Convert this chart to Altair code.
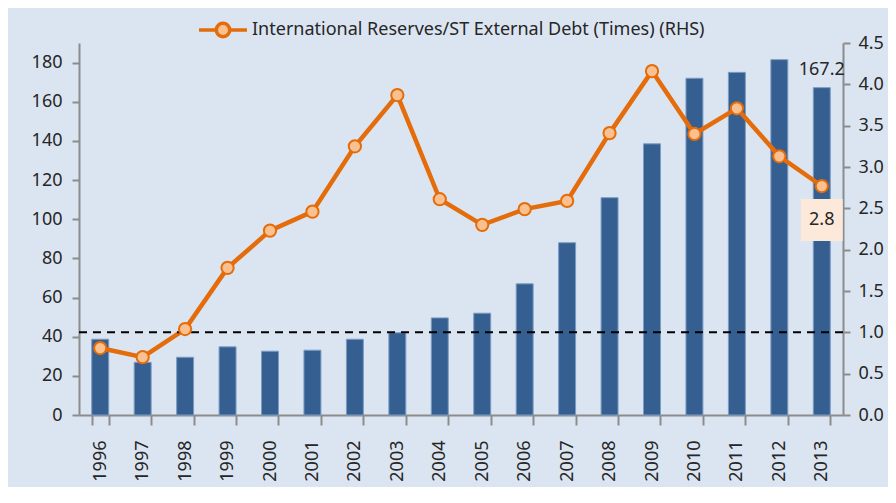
import altair as alt
import pandas as pd

years = [str(y) for y in range(1996, 2014)]
reserves_bn = [38.7, 26.9, 29.5, 34.8, 32.6, 33.1, 38.7, 42.0, 49.6, 52.0,
               67.0, 88.0, 111.0, 138.5, 172.0, 175.0, 181.5, 167.2]
ratio_times = [0.81, 0.70, 1.04, 1.78, 2.23, 2.46, 3.25, 3.87, 2.61, 2.30,
               2.49, 2.59, 3.41, 4.16, 3.40, 3.71, 3.13, 2.77]
series_name = "International Reserves/ST External Debt (Times) (RHS)"
threshold = [1.0]
last_bar_label = ["167.2"]
last_ratio_label = ["2.8"]

df = pd.DataFrame({"year": years, "reserves": reserves_bn, "ratio": ratio_times,
                   "series": [series_name] * len(years)})
last = df.tail(1).copy()
last["bar_label"] = last_bar_label
last["ratio_label"] = last_ratio_label

FONT = "Noto Sans"
BG = "#dbe5f1"
BAR = "#365f91"
ORANGE = "#e46c0a"
PEACH = "#fac090"
GREY = "#8c8c8c"
TXT = "#262626"
FS = 18

xenc = alt.X("year:N", sort=years, title=None,
             scale=alt.Scale(paddingInner=0.6, paddingOuter=0.3),
             axis=alt.Axis(labelAngle=-90, tickBand="extent", labelAlign="right",
                           labelBaseline="middle", tickSize=10, labelPadding=15,
                           domainColor=GREY, tickColor=GREY, domainWidth=2, tickWidth=2))

left_y = alt.Y("reserves:Q", title=None,
               scale=alt.Scale(domain=[0, 190], nice=False),
               axis=alt.Axis(values=list(range(0, 200, 20)), orient="left", grid=False,
                             domainColor=GREY, tickColor=GREY, domainWidth=2, tickWidth=2,
                             tickSize=7, labelPadding=10))

bars = alt.Chart(df).mark_bar(color=BAR, stroke="#7c9cc4", strokeWidth=1).encode(
    x=xenc, y=left_y)
bar_text = alt.Chart(last).mark_text(font=FONT, fontSize=FS, color=TXT,
                                      baseline="bottom", dy=-9).encode(
    x=alt.X("year:N", sort=years), y=alt.Y("reserves:Q"), text="bar_label:N")
left_layer = alt.layer(bars, bar_text)

right_y = alt.Y("ratio:Q", title=None,
                scale=alt.Scale(domain=[0, 4.5], nice=False),
                axis=alt.Axis(values=[i * 0.5 for i in range(10)], format=".1f", orient="right",
                              grid=False, domainColor=GREY, tickColor=GREY, domainWidth=2,
                              tickWidth=2, tickSize=7, labelPadding=8))

thr_df = pd.DataFrame({"ratio": threshold})
rule = alt.Chart(thr_df).mark_rule(color="black", strokeWidth=2, strokeDash=[8, 6]).encode(
    y=alt.Y("ratio:Q"))

line = alt.Chart(df).mark_line(color=ORANGE, strokeWidth=4.5).encode(
    x=alt.X("year:N", sort=years), y=right_y,
    color=alt.Color("series:N", scale=alt.Scale(range=[ORANGE]),
                    legend=alt.Legend(title=None, orient="none", legendX=118, legendY=-39,
                                      symbolType="M-1,0L-0.28,0M0.28,0L1,0M0.28,0A0.28,0.28 0 1 1 -0.28,0A0.28,0.28 0 1 1 0.28,0",
                                      symbolSize=2300, symbolStrokeWidth=3.5,
                                      symbolFillColor=PEACH, symbolStrokeColor=ORANGE,
                                      labelFont=FONT, labelFontSize=FS, labelColor=TXT,
                                      labelLimit=700, symbolOffset=0, labelOffset=3)))
pts = alt.Chart(df).mark_point(filled=True, fill=PEACH, stroke=ORANGE, strokeWidth=2,
                               size=150, opacity=1, shape="circle").encode(
    x=alt.X("year:N", sort=years), y=alt.Y("ratio:Q"))
box = alt.Chart(last).mark_point(shape="square", filled=True, fill="#fde9d9", size=1750,
                                 opacity=1, yOffset=34).encode(
    x=alt.X("year:N", sort=years), y=alt.Y("ratio:Q"))
box_text = alt.Chart(last).mark_text(font=FONT, fontSize=FS, color=TXT, yOffset=34,
                                     baseline="middle").encode(
    x=alt.X("year:N", sort=years), y=alt.Y("ratio:Q"), text="ratio_label:N")
right_layer = alt.layer(line, rule, pts, box, box_text)

chart = alt.layer(left_layer, right_layer).resolve_scale(y="independent", color="independent").properties(
    width=764, height=372,
    background=BG,
    padding={"left": 71, "top": 35, "right": 45, "bottom": 72},
    autosize=alt.AutoSizeParams(type="none"),
).configure_view(stroke=None).configure_axis(
    labelFont=FONT, labelFontSize=FS, labelColor=TXT
)

chart.save("out.html", embed_options={"renderer": "svg", "actions": False})
